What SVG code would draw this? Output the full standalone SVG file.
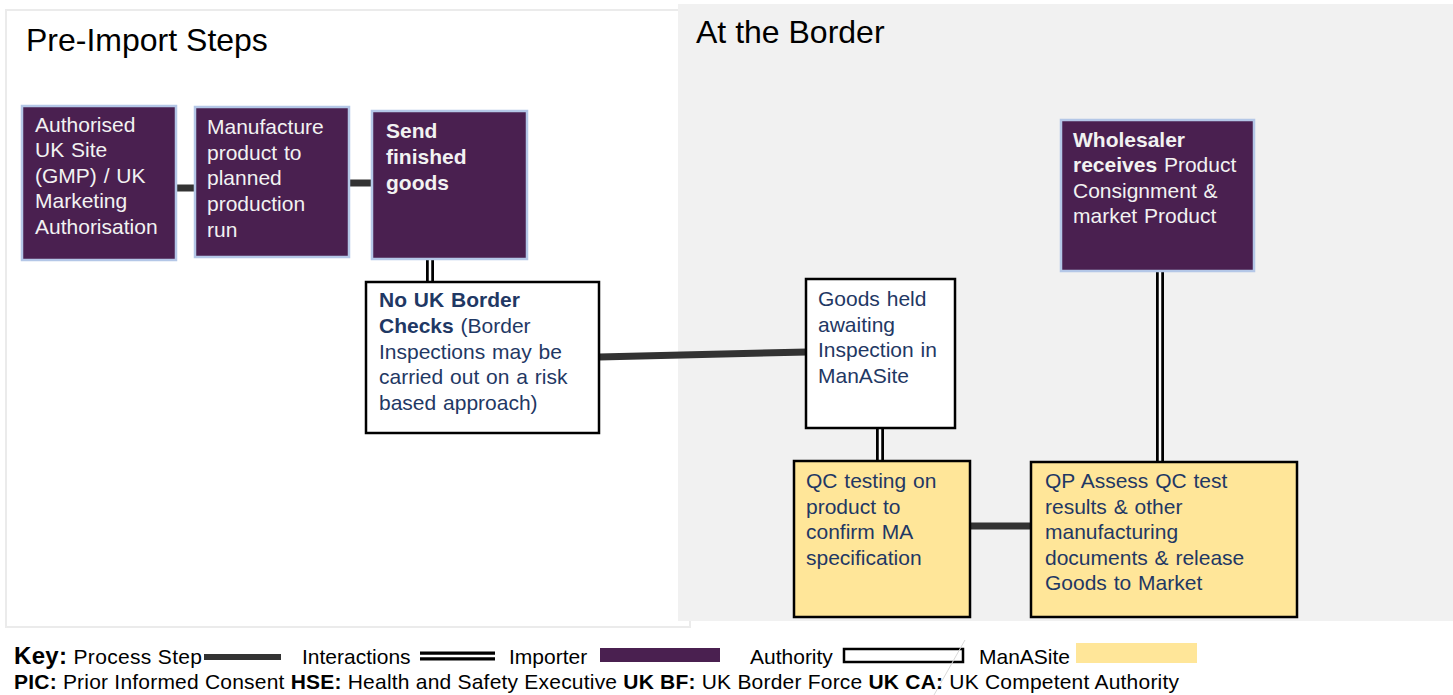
<svg xmlns="http://www.w3.org/2000/svg" width="1453" height="695" viewBox="0 0 1453 695">
<style>
text{font-family:"Liberation Sans",Arial,sans-serif;}
.t{font-size:21px;word-spacing:1px;}
.w{fill:#f2f2f2;}
.n{fill:#1f3864;}
.b{font-weight:bold;}
.imp{fill:#4a2050;stroke:#b4c7e7;stroke-width:2.5;}
.auth{fill:#ffffff;stroke:#000;stroke-width:2.5;}
.man{fill:#ffe699;stroke:#000;stroke-width:2.5;}
.step{stroke:#333;stroke-width:7;fill:none;}
.dblo{stroke:#000;stroke-width:8;fill:none;}
.dbli{stroke:#fff;stroke-width:2.5;fill:none;}
.title{font-size:32px;fill:#000;}
.key{font-size:21px;fill:#000;}
</style>
<rect width="1453" height="695" fill="#fff"/>
<g id="panels">
<rect x="6" y="10" width="684" height="617" fill="#fff" stroke="#ebebeb" stroke-width="2"/>
<rect x="678" y="4" width="775" height="617" fill="#f1f1f1"/>
<text class="title" x="26" y="51">Pre-Import Steps</text>
<text class="title" x="696" y="43">At the Border</text>
</g>
<g id="connectors">
<line class="step" x1="176" y1="188" x2="195" y2="188"/>
<line class="step" x1="349" y1="183" x2="372" y2="183"/>
<line class="step" x1="599" y1="357" x2="807" y2="352"/>
<line class="step" x1="970" y1="526" x2="1031" y2="526"/>
<line class="dblo" x1="430" y1="259" x2="430" y2="282"/>
<line class="dbli" x1="430" y1="259" x2="430" y2="282"/>
<line class="dblo" x1="880" y1="428" x2="880" y2="461"/>
<line class="dbli" x1="880" y1="428" x2="880" y2="461"/>
<line class="dblo" x1="1160" y1="271" x2="1160" y2="462"/>
<line class="dbli" x1="1160" y1="271" x2="1160" y2="462"/>
</g>
<g id="n1">
<rect class="imp" x="22" y="106" width="154" height="154"/>
<text class="t w"><tspan x="35" y="132">Authorised</tspan><tspan x="35" y="157">UK Site</tspan><tspan x="35" y="183">(GMP) / UK</tspan><tspan x="35" y="208">Marketing</tspan><tspan x="35" y="234">Authorisation</tspan></text>
</g>
<g id="n2">
<rect class="imp" x="195" y="107" width="154" height="150"/>
<text class="t w"><tspan x="207" y="134">Manufacture</tspan><tspan x="207" y="160">product to</tspan><tspan x="207" y="185">planned</tspan><tspan x="207" y="211">production</tspan><tspan x="207" y="237">run</tspan></text>
</g>
<g id="n3">
<rect class="imp" x="372" y="111" width="155" height="148"/>
<text class="t w b"><tspan x="386" y="138">Send</tspan><tspan x="386" y="164">finished</tspan><tspan x="386" y="190">goods</tspan></text>
</g>
<g id="n4">
<rect class="auth" x="366" y="282" width="233" height="151"/>
<text class="t n"><tspan x="379" y="307" class="b">No UK Border</tspan><tspan x="379" y="333"><tspan class="b">Checks</tspan> (Border</tspan><tspan x="379" y="359">Inspections may be</tspan><tspan x="379" y="384">carried out on a risk</tspan><tspan x="379" y="410">based approach)</tspan></text>
</g>
<g id="n5">
<rect class="auth" x="806" y="279" width="149" height="149"/>
<text class="t n"><tspan x="818" y="306">Goods held</tspan><tspan x="818" y="332">awaiting</tspan><tspan x="818" y="357">Inspection in</tspan><tspan x="818" y="383">ManASite</tspan></text>
</g>
<g id="n6">
<rect class="imp" x="1061" y="120" width="193" height="151"/>
<text class="t w"><tspan x="1073" y="147" class="b">Wholesaler</tspan><tspan x="1073" y="172"><tspan class="b">receives</tspan> Product</tspan><tspan x="1073" y="198">Consignment &amp;</tspan><tspan x="1073" y="223">market Product</tspan></text>
</g>
<g id="n7">
<rect class="man" x="794" y="461" width="176" height="156"/>
<text class="t n"><tspan x="806" y="488">QC testing on</tspan><tspan x="806" y="514">product to</tspan><tspan x="806" y="539">confirm MA</tspan><tspan x="806" y="565">specification</tspan></text>
</g>
<g id="n8">
<rect class="man" x="1031" y="462" width="266" height="155"/>
<text class="t n"><tspan x="1045" y="488">QP Assess QC test</tspan><tspan x="1045" y="514">results &amp; other</tspan><tspan x="1045" y="539">manufacturing</tspan><tspan x="1045" y="565">documents &amp; release</tspan><tspan x="1045" y="590">Goods to Market</tspan></text>
</g>
<g id="legend">
<text class="key" x="14" y="664" textLength="188" lengthAdjust="spacing"><tspan class="b" font-size="24">Key:</tspan> Process Step</text>
<line x1="204" y1="657" x2="281" y2="657" stroke="#333" stroke-width="6"/>
<text class="key" x="302" y="664">Interactions</text>
<line x1="420" y1="656" x2="495" y2="656" stroke="#000" stroke-width="9"/>
<line x1="420" y1="656" x2="495" y2="656" stroke="#fff" stroke-width="2.5"/>
<text class="key" x="509" y="664">Importer</text>
<rect x="600" y="648" width="120" height="14" fill="#4a2050"/>
<text class="key" x="750" y="664">Authority</text>
<rect x="844" y="649" width="119" height="13" fill="#fff" stroke="#000" stroke-width="2.5"/>
<text class="key" x="979" y="664">ManASite</text>
<rect x="1076" y="643" width="121" height="20" fill="#ffe699"/>
<line x1="965" y1="640" x2="934" y2="695" stroke="#d9d9d9" stroke-width="1"/>
<text class="key" x="14" y="689" textLength="1165" lengthAdjust="spacing"><tspan class="b">PIC:</tspan> Prior Informed Consent <tspan class="b">HSE:</tspan> Health  and Safety Executive <tspan class="b">UK BF:</tspan> UK Border Force <tspan class="b">UK CA:</tspan> UK Competent  Authority</text>
</g>
</svg>
